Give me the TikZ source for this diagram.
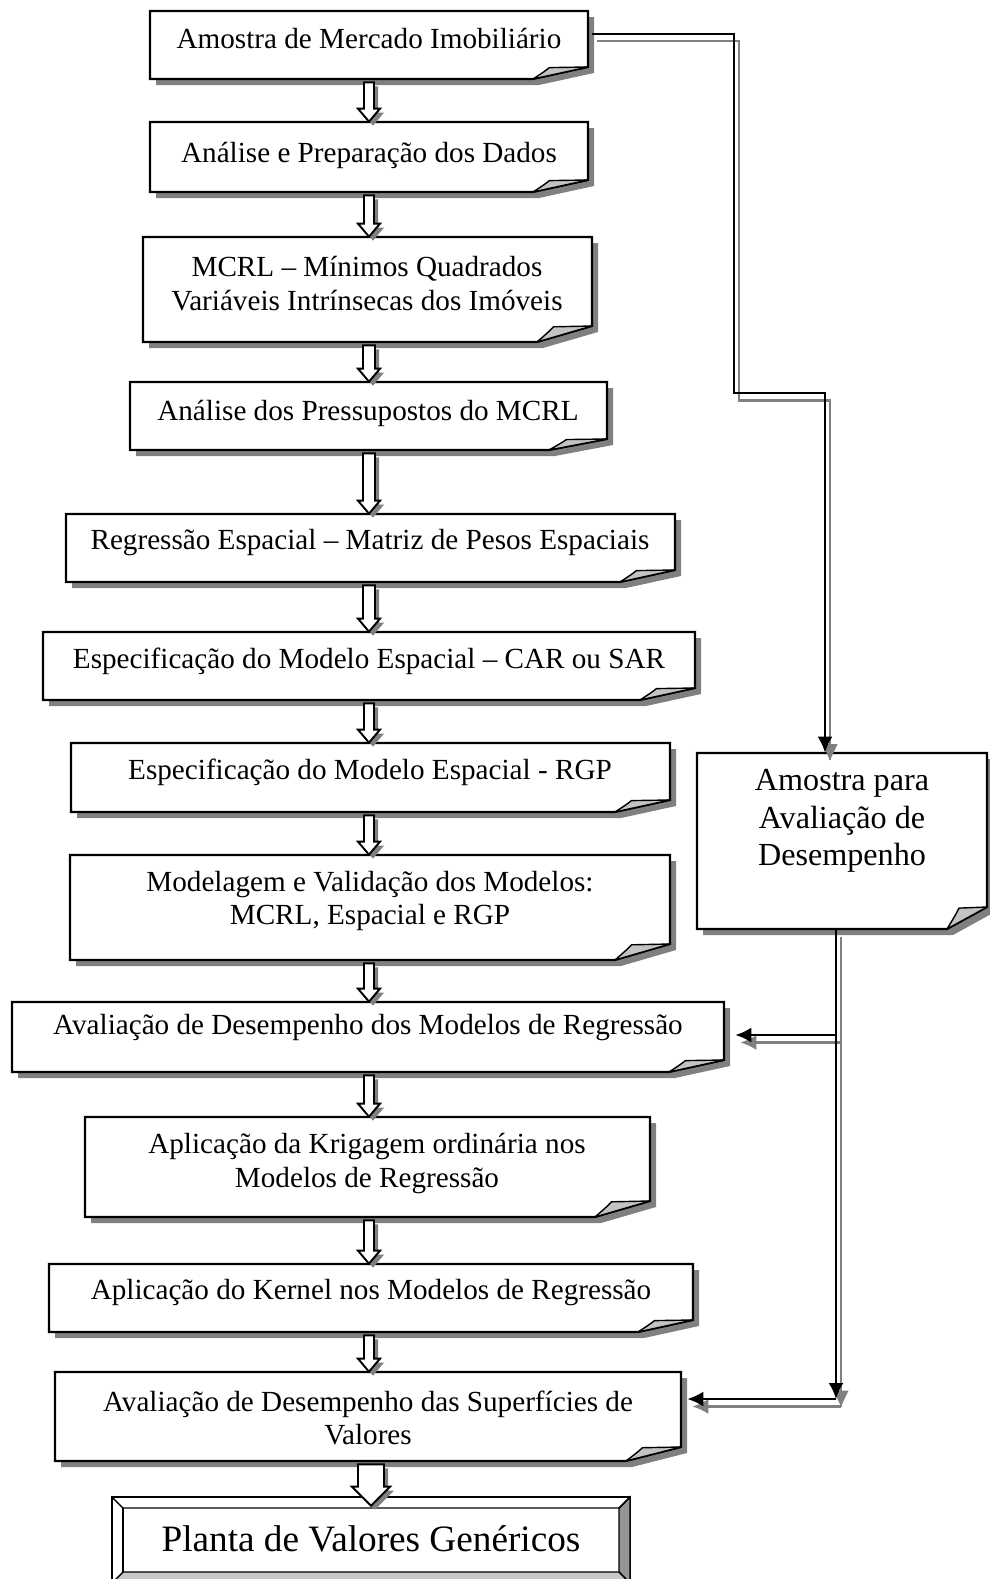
\documentclass[tikz,border=0pt]{standalone}
\usepackage{fontspec}
\setmainfont{Liberation Serif}
\usetikzlibrary{calc,arrows.meta,fit}
\pgfdeclarelayer{bg}
\pgfsetlayers{bg,main}
\definecolor{shadowgray}{RGB}{128,128,128}
\definecolor{foldgray}{RGB}{195,195,195}
\definecolor{linegray}{RGB}{128,128,128}
\definecolor{bevelright}{RGB}{150,150,150}
\definecolor{bevelbottom}{RGB}{200,200,200}
\tikzset{
  boxline/.style={draw=black, line width=1.2pt, line join=miter},
  txt/.style={font=\fontsize{16.6}{19}\selectfont, align=center, inner sep=0pt},
  bigtxt/.style={font=\fontsize{18.3}{21.5}\selectfont, align=center, inner sep=0pt},
  plantatxt/.style={font=\fontsize{21.2}{25}\selectfont, inner sep=0pt},
  conn/.style={line width=1.3pt, draw=black, -{Latex[length=0.32cm,width=0.3cm]}},
  connshadow/.style={line width=1.3pt, draw=linegray, -{Latex[length=0.32cm,width=0.3cm]}},
  hollow/.style={fill=white, draw=black, line width=1.1pt, line join=miter},
  hollowshadow/.style={fill=shadowgray, draw=none},
  frame/.style={fit={#1}, inner sep=0pt},
}
% folded-corner box: name, x1, y1, x2, y2, fold width, fold height
\newcommand\foldbox[7]{%
  \node[frame={(#2,#3) (#4,#5)}] (#1) {};
  \begin{pgfonlayer}{bg}
    \fill[shadowgray] (#2+6,#3+6) -- (#4+6,#3+6) -- (#4+6,#5+6-#7) -- (#4+6-#6,#5+6) -- (#2+6,#5+6) -- cycle;
    \filldraw[fill=white, boxline] (#2,#3) -- (#4,#3) -- (#4,#5-#7) -- (#4-#6,#5) -- (#2,#5) -- cycle;
    \filldraw[fill=foldgray, draw=black, line width=0.8pt, line join=round] (#4-#6,#5) .. controls (#4-0.8*#6,#5-0.6*#7) .. (#4-0.7*#6,#5-0.95*#7) -- (#4,#5-#7) -- cycle;
  \end{pgfonlayer}}
% hollow block arrow between two named nodes: from, to, half shaft, half head, head length, tip offset
\newcommand\blockarrow[6]{%
  \coordinate (bt) at ($(#1.south -| ax)+(0,3)$);
  \coordinate (bb) at ($(#2.north -| ax)+(0,#6)$);
  \fill[hollowshadow, transform canvas={xshift=0.08cm,yshift=-0.08cm}]
    ($(bt)+(-#3,0)$) -- ($(bt)+(#3,0)$) -- ($(bb)+(#3,-#5)$) -- ($(bb)+(#4,-#5)$) -- (bb)
    -- ($(bb)+(-#4,-#5)$) -- ($(bb)+(-#3,-#5)$) -- cycle;
  \filldraw[hollow]
    ($(bt)+(-#3,0)$) -- ($(bt)+(#3,0)$) -- ($(bb)+(#3,-#5)$) -- ($(bb)+(#4,-#5)$) -- (bb)
    -- ($(bb)+(-#4,-#5)$) -- ($(bb)+(-#3,-#5)$) -- cycle;}
\begin{document}
\begin{tikzpicture}[x=0.02cm, y=-0.02cm]
\useasboundingbox (0,0) rectangle (990,1579);
\coordinate (ax) at (369,0);

% boxes
\foldbox{b1}{150}{11}{588}{79}{55}{12}
\foldbox{b2}{150}{122}{588}{192}{55}{12}
\foldbox{b3}{143}{237}{592}{342}{55}{16}
\foldbox{b4}{130}{382}{607}{450}{58}{11}
\foldbox{b5}{66}{514}{675}{582}{55}{12}
\foldbox{b6}{43}{632}{695}{700}{55}{12}
\foldbox{b7}{71}{743}{670}{812}{55}{12}
\foldbox{b8}{70}{855}{670}{960}{55}{16}
\foldbox{b9}{12}{1002}{724}{1072}{55}{12}
\foldbox{b10}{85}{1117}{650}{1217}{55}{16}
\foldbox{b11}{49}{1264}{693}{1332}{55}{12}
\foldbox{b12}{55}{1372}{681}{1461}{55}{14}
\foldbox{rb}{697}{753}{987}{929}{40}{22}

% texts
\node[txt] (t1) at (369,39) {Amostra de Mercado Imobiliário};
\node[txt] (t2) at (369,155) {Análise e Preparação dos Dados};
\node[txt] (t3) at (367,283.5) {MCRL – Mínimos Quadrados\\Variáveis Intrínsecas dos Imóveis};
\node[txt] (t4) at (368,413) {Análise dos Pressupostos do MCRL};
\node[txt] (t5) at (370,543) {Regressão Espacial – Matriz de Pesos Espaciais};
\node[txt] (t6) at (369,661) {Especificação do Modelo Espacial – CAR ou SAR};
\node[txt] (t7) at (370,772) {Especificação do Modelo Espacial - RGP};
\node[txt] (t8) at (370,901) {Modelagem e Validação dos Modelos:\\MCRL, Espacial e RGP};
\node[txt] (t9) at (368,1028) {Avaliação de Desempenho dos Modelos de Regressão};
\node[txt] (t10) at (367,1163.5) {Aplicação da Krigagem ordinária nos\\Modelos de Regressão};
\node[txt] (t11) at (371,1293) {Aplicação do Kernel nos Modelos de Regressão};
\node[txt] (t12) at (368,1418) {Avaliação de Desempenho das Superfícies de\\Valores};
\node[bigtxt] (trb) at (842,821) {Amostra para\\Avaliação de\\Desempenho};

% bevelled final box
\node[frame={(112,1497) (630,1583)}] (pl) {};
\begin{pgfonlayer}{bg}
  \filldraw[fill=white, boxline, line width=1pt] (112,1497) rectangle (630,1583);
  \filldraw[fill=bevelright, draw=black, line width=0.8pt] (630,1497) -- (619,1508) -- (619,1572) -- (630,1583) -- cycle;
  \filldraw[fill=bevelbottom, draw=black, line width=0.8pt] (112,1583) -- (123,1572) -- (619,1572) -- (630,1583) -- cycle;
  \draw[black, line width=0.8pt] (112,1497) -- (123,1508) -- (619,1508) -- (630,1497);
  \draw[black, line width=0.8pt] (123,1508) -- (123,1572);
\end{pgfonlayer}
\node[plantatxt] (tpl) at (371,1539) {Planta de Valores Genéricos};

% hollow block arrows
\blockarrow{b1}{b2}{5}{11}{13}{0}
\blockarrow{b2}{b3}{5}{11}{13}{0}
\blockarrow{b3}{b4}{6}{11}{13}{0}
\blockarrow{b4}{b5}{6}{11}{13}{0}
\blockarrow{b5}{b6}{6}{11}{13}{0}
\blockarrow{b6}{b7}{5}{11}{13}{0}
\blockarrow{b7}{b8}{5}{11}{13}{0}
\blockarrow{b8}{b9}{5}{11}{13}{0}
\blockarrow{b9}{b10}{5}{11}{13}{0}
\blockarrow{b10}{b11}{5}{11}{13}{0}
\blockarrow{b11}{b12}{5}{11}{13}{0}
\coordinate (ax) at (371,0);
\blockarrow{b12}{pl}{13}{19}{19}{9}

% right-hand connectors
\coordinate (r1) at (734,393);
\coordinate (r2) at (825,0);
\coordinate (v1) at (836,1035);
\coordinate (v2) at (836,1399);
\begin{scope}[transform canvas={xshift=0.1cm,yshift=-0.15cm}]
  \draw[connshadow, -] ($(b1.north east)+(4,23)$) -| (r1) -| (rb.north -| r2);
  \draw[connshadow, -] (rb.south -| v1) -- (v2);
  \draw[connshadow] (v1) -- ($(v1 -| b9.east)+(11,0)$);
  \draw[connshadow] (v2) -- ($(v2 -| b12.east)+(6,0)$);
\end{scope}
\path[fill=linegray, transform canvas={xshift=0.1cm,yshift=-0.15cm}] ($(rb.north -| r2)+(-7.5,-16)$) -- ($(rb.north -| r2)+(7.5,-16)$) -- (rb.north -| r2) -- cycle;
\path[fill=linegray, transform canvas={xshift=0.1cm,yshift=-0.15cm}] ($(v2)+(-7.5,-16)$) -- ($(v2)+(7.5,-16)$) -- (v2) -- cycle;
\draw[conn] ($(b1.north east)+(4,23)$) -| (r1) -| (rb.north -| r2);
\draw[conn] (rb.south -| v1) -- (v2);
\draw[conn] (v1) -- ($(v1 -| b9.east)+(11,0)$);
\draw[conn] (v2) -- ($(v2 -| b12.east)+(6,0)$);
\end{tikzpicture}
\end{document}
